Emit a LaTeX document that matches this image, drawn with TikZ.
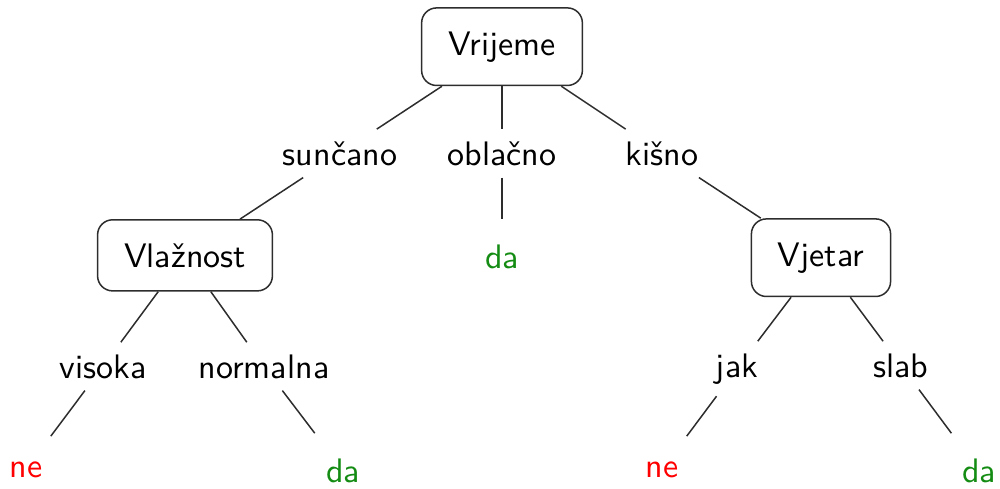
\documentclass[tikz,border=0pt]{standalone}
\usepackage{fontspec}
\newfontfamily\treefont{lmsans10-regular.otf}
\usepackage{tikz}
\definecolor{dagreen}{RGB}{20,140,20}
\definecolor{linegray}{RGB}{45,45,45}
\tikzset{
  attr/.style={draw=linegray, line width=1.5pt, rounded corners=15pt, inner xsep=26.5pt, inner ysep=23.5pt, anchor=base},
  val/.style={inner sep=12pt, anchor=base},
  leaf/.style={inner sep=25pt, anchor=base},
  edge/.style={linegray, line width=1.5pt}
}

\begin{document}
\begin{tikzpicture}[x=1pt, y=-1pt, font=\treefont\fontsize{34}{40}\selectfont]
\useasboundingbox (0,0) rectangle (1000,488);

\node[attr] (Vr) at (502, 55) {Vrijeme};
\node[val] (sun) at (340, 165) {sunčano};
\node[val] (obl) at (502, 165) {oblačno};
\node[val] (kis) at (662, 165) {kišno};
\node[attr] (Vl) at (185, 267) {Vlažnost};
\node[leaf, text=dagreen] (da_1) at (502, 268) {da};
\node[attr] (Vj) at (821, 266) {Vjetar};
\node[val] (vis) at (103, 378) {visoka};
\node[val] (nor) at (264, 378) {normalna};
\node[val] (jak) at (737, 377) {jak};
\node[val] (sla) at (901, 377) {slab};
\node[leaf, text=red] (ne_1) at (26, 477) {ne};
\node[leaf, text=dagreen] (da_2) at (343, 482) {da};
\node[leaf, text=red] (ne_2) at (662, 477) {ne};
\node[leaf, text=dagreen] (da_3) at (979, 482) {da};

\draw[edge] (Vr)--(sun);
\draw[edge] (Vr)--(obl);
\draw[edge] (Vr)--(kis);
\draw[edge] (sun)--(Vl);
\draw[edge] (obl)--(da_1);
\draw[edge] (kis)--(Vj);
\draw[edge] (Vl)--(vis);
\draw[edge] (Vl)--(nor);
\draw[edge] (Vj)--(jak);
\draw[edge] (Vj)--(sla);
\draw[edge] (vis)--(ne_1);
\draw[edge] (nor)--(da_2);
\draw[edge] (jak)--(ne_2);
\draw[edge] (sla)--(da_3);

\end{tikzpicture}
\end{document}
